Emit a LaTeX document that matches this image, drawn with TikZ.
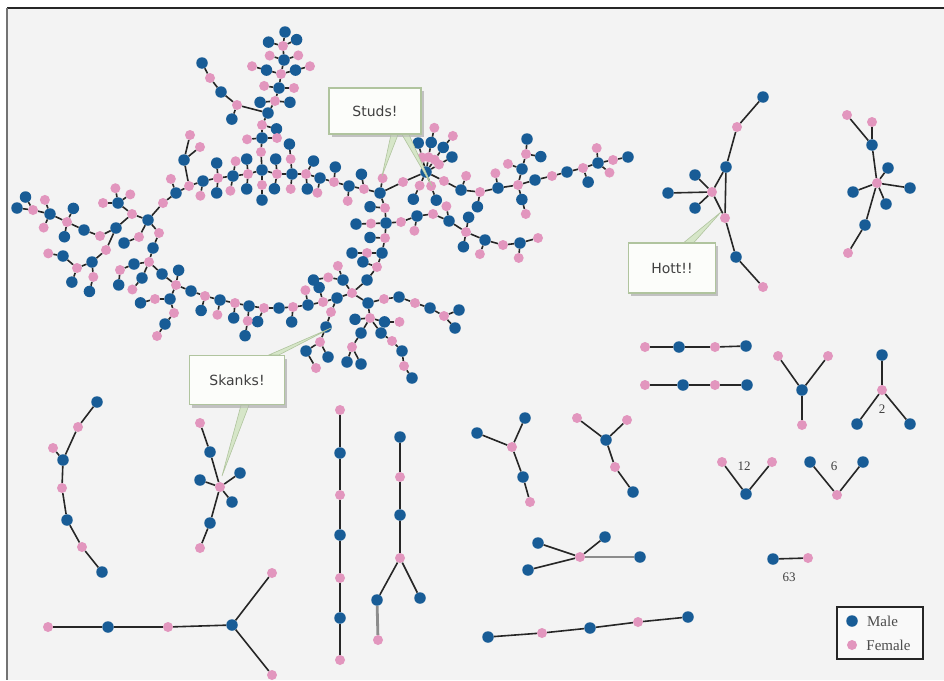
\documentclass[tikz,border=0pt]{standalone}
\usepackage{fontspec}
\setmainfont{Liberation Serif}
\newfontfamily\calloutfont{DejaVu Sans}
\usetikzlibrary{positioning,shadows}

\definecolor{maleblue}{RGB}{24,92,150}
\definecolor{femalepink}{RGB}{226,150,190}
\definecolor{paper}{RGB}{243,243,243}
\definecolor{noteedge}{RGB}{176,196,158}
\definecolor{notefill}{RGB}{252,253,250}
\definecolor{pointerfill}{RGB}{214,230,200}

\tikzset{
  male/.style={circle,fill=maleblue,inner sep=0pt,minimum size=11.5pt},
  female/.style={circle,fill=femalepink,inner sep=0pt,minimum size=10pt},
  tie/.style={draw=black!85,line width=1.6pt},
  thicktie/.style={draw=black!45,line width=2.8pt},
  notebox/.style={rectangle,draw=noteedge,fill=notefill,line width=1.2pt,
    font=\calloutfont\fontsize{14}{16}\selectfont,text=black!75,
    drop shadow={shadow xshift=2.5pt,shadow yshift=-3pt,fill=black!30}},
  pointer/.style={fill=pointerfill,draw=noteedge,line width=0.6pt},
  countlabel/.style={font=\fontsize{13}{15}\selectfont,text=black!75},
  legendtext/.style={font=\fontsize{15}{17}\selectfont,text=black!70,inner sep=0pt}
}

% leaves hanging off a node, one per angle
\newcommand\twig[3]{%
  \foreach \ang in {#3}{%
    \path (#1) ++(\ang:15) node[#2] (#1-\ang) {};
    \draw[tie] (#1) -- (#1-\ang);
  }}
% two-step spokes
\newcommand\arm[4]{%
  \foreach \ang in {#4}{%
    \path (#1) ++(\ang:15) node[#2] (#1-\ang) {} ++(\ang:15) node[#3] (#1-\ang-2) {};
    \draw[tie] (#1) -- (#1-\ang) -- (#1-\ang-2);
  }}

\begin{document}
\begin{tikzpicture}[x=1pt,y=-1pt]
\useasboundingbox (0,0) rectangle (944,680);
\fill[white] (0,0) rectangle (944,680);
\fill[paper] (7,8) rectangle (944,680);
\draw[black!85,line width=2.5pt] (944,8) -- (7,8);
\draw[black!55,line width=2.5pt] (7,8) -- (7,680);

% the big component
\foreach \n/\x/\y/\s in {
  t10/285/32/male, t9/283/46/female, t8/284/60/male, t7/281/74/female, t6/279/88/male,
  t5/275/101/female, t4/268/113/male, t3/262/125/female, t2/262/138/male, t1/261/152/female,
  l1/202/63/male, l2/210/78/female, l3/221/92/male, l4/237/105/female,
  a1/163/203/female, a2/176/193/male, a3/189/186/female, a4/203/181/male, a5/218/178/female,
  a6/233/176/male, a7/248/174/female, h0/262/170/male, a8/277/174/female, a9/292/174/male,
  a10/306/174/female, a11/320/178/male, a12/334/182/female, a13/349/186/male, a14/364/189/female,
  R/380/193/male, b1/184/160/male, b2/190/135/female, b3/200/147/female,
  c1/385/208/female, c2/386/223/male, c3/385/238/female, c4/382/253/male, c5/377/267/female,
  c6/367/280/male, B/352/293/female,
  d1/337/298/male, d2/323/302/female, d3/308/305/male, d4/293/307/female, d5/279/308/male,
  d6/264/308/female, d7/249/306/male, d8/235/303/female, d9/220/300/male, d10/205/296/female,
  d11/191/291/male, LB/176/285/female,
  x4/162/274/male, x3/149/262/female, x2/153/248/male, x1/159/233/female, M2/148/220/male,
  y1/132/214/female, y2/118/203/male, y6/116/228/male, y7/100/236/female, y8/106/250/female,
  y9/139/237/female, y10/124/243/male,
  w5/84/230/male, w4/67/222/female, w3/50/214/male, w2/33/210/female, w1/17/208/male,
  w7/92/262/male, w8/77/268/female, w9/63/256/male,
  w10/134/264/male, w11/120/270/female, w12/142/278/male,
  z1/170/299/male, z2/174/313/female, z3/165/324/male, z4/157/336/female,
  j1/403/182/female, S/426/172/male,
  e1/444/181/female, e2/461/190/male, e3/480/192/female, e4/498/188/male, C2/518/185/female,
  u1/522/169/male, u2/526/154/female, u3/527/139/male,
  v1/535/180/male, v2/552/176/female, v3/567/172/male, v4/583/168/female, v5/598/163/male,
  v6/613/160/female, v7/628/157/male,
  k1/401/222/female, k2/417/216/male, k3/433/214/female, k4/449/221/male, H2/466/232/female,
  n1/485/240/male, n2/503/245/female, n3/520/243/male, n4/538/238/female,
  m1/343/280/male, p1/368/303/male, p2/384/299/female, p3/399/297/male, p4/415/303/female,
  p5/430/308/male, p6/444/316/female, p7/459/310/male, p8/455/328/male,
  B2/370/318/female, r1/361/333/male, r2/352/347/female, r3/347/362/male, r4/361/364/male,
  r5/381/333/male, r6/392/341/female, r7/402/351/male, r8/404/366/female, r9/412/378/male,
  o1/331/312/female, o2/326/327/male, o3/320/342/female, o4/306/351/male, o5/328/357/male,
  o6/316/368/female}
  {\node[\s] (\n) at (\x,\y) {};}

\draw[tie] (t10)--(t9)--(t8)--(t7)--(t6)--(t5)--(t4)--(t3)--(t2)--(t1)--(h0);
\draw[tie] (l1)--(l2)--(l3)--(l4)--(t4);
\draw[tie] (M2)--(a1)--(a2)--(a3)--(a4)--(a5)--(a6)--(a7)--(h0)--(a8)--(a9)--(a10)--(a11)
  --(a12)--(a13)--(a14)--(R)--(c1)--(c2)--(c3)--(c4)--(c5)--(c6)--(B)--(d1)--(d2)--(d3)
  --(d4)--(d5)--(d6)--(d7)--(d8)--(d9)--(d10)--(d11)--(LB)--(x4)--(x3)--(x2)--(x1)--(M2);
\draw[tie] (a3)--(b1)--(b2);
\draw[tie] (b1)--(b3);
\draw[tie] (M2)--(y1)--(y2);
\draw[tie] (y1)--(y6)--(y7)--(w5)--(w4)--(w3)--(w2)--(w1);
\draw[tie] (y6)--(y8)--(w7)--(w8)--(w9);
\draw[tie] (M2)--(y9)--(y10);
\draw[tie] (x3)--(w10)--(w11);
\draw[tie] (x3)--(w12);
\draw[tie] (LB)--(z1)--(z2)--(z3)--(z4);
\draw[tie] (R)--(j1)--(S)--(e1)--(e2)--(e3)--(e4)--(C2)--(v1)--(v2)--(v3)--(v4)--(v5)--(v6)--(v7);
\draw[tie] (C2)--(u1)--(u2)--(u3);
\draw[tie] (c2)--(k1)--(k2)--(k3)--(k4)--(H2)--(n1)--(n2)--(n3)--(n4);
\draw[tie] (B)--(m1);
\draw[tie] (B)--(p1)--(p2)--(p3)--(p4)--(p5)--(p6)--(p7);
\draw[tie] (p6)--(p8);
\draw[tie] (p1)--(B2)--(r1)--(r2)--(r3);
\draw[tie] (r2)--(r4);
\draw[tie] (B2)--(r5)--(r6)--(r7)--(r8)--(r9);
\draw[tie] (d1)--(o1)--(o2)--(o3)--(o4)--(o6);
\draw[tie] (o3)--(o5);

\twig{t9}{male}{195,-25}
\twig{t8}{female}{197,-18}
\arm{t7}{male}{female}{195,-15}
\twig{t6}{female}{188,0}
\twig{t5}{male}{175,5}
\twig{t3}{male}{15}
\twig{t2}{female}{0,175}
\twig{l4}{male}{110}
\twig{a2}{female}{-110}
\twig{a4}{female}{100}
\twig{a5}{male}{-95,95}
\twig{a6}{female}{-80,100}
\twig{a7}{male}{-95,95}
\arm{h0}{female}{male}{90}
\twig{a8}{male}{-95,100}
\arm{a9}{female}{male}{-95}
\twig{a9}{female}{95}
\twig{a10}{male}{-60,85}
\twig{a11}{female}{100}
\twig{a12}{male}{-85}
\twig{a13}{female}{95}
\twig{a14}{male}{-100}
\twig{R}{female}{-80}
\twig{c1}{male}{185}
\arm{c2}{female}{male}{178}
\twig{c3}{male}{182}
\arm{c4}{female}{male}{180}
\twig{c5}{male}{200}
\arm{S}{female}{male}{-105,-80,-55,-30,70,115}
\twig{S--80-2}{female}{-78}
\twig{S--55-2}{female}{-50}
\twig{e2}{female}{-70}
\twig{e3}{male}{100}
\twig{e4}{female}{-100}
\twig{u1}{female}{-160}
\twig{u2}{male}{10}
\arm{C2}{male}{female}{75}
\twig{v4}{male}{70}
\twig{v5}{female}{-95,40}
\twig{k2}{female}{100}
\twig{k4}{female}{-100}
\twig{H2}{male}{-80,100}
\twig{n1}{female}{110}
\twig{n3}{female}{95}
\twig{m1}{female}{-110,190}
\twig{m1-190}{male}{170}
\twig{B2}{male}{175,15}
\twig{B2-15}{female}{0}
\twig{d2}{male}{-105}
\twig{d3}{female}{-100}
\twig{d4}{male}{95}
\twig{d6}{male}{115}
\twig{d7}{female}{95}
\twig{d7-95}{male}{100}
\twig{d8}{male}{95}
\twig{d9}{female}{100}
\twig{d10}{male}{105}
\twig{LB}{male}{-80}
\twig{z1}{female}{180}
\twig{z1-180}{male}{165}
\twig{y2}{female}{-100,-35,180}
\twig{w3}{female}{-110,115}
\twig{w2}{male}{-120}
\twig{w4}{male}{-65,100}
\twig{w7}{female}{85}
\twig{w7-85}{male}{105}
\twig{w8}{male}{110}
\twig{w9}{female}{190}
\twig{w11}{male}{95}
\twig{w12}{female}{130}

% small components, right of the big one
\foreach \n/\x/\y/\s in {
  ha1/763/97/male, ha2/737/127/female, ha3/726/167/male, ha4/712/192/female, ha5/725/218/female,
  ha6/736/257/male, ha7/763/287/female, ha8/695/175/male, ha9/668/193/male, ha10/695/208/male,
  hb1/847/115/female, hb2/872/122/female, hb3/872/145/male, hb4/877/183/female, hb5/888/168/male,
  hb6/910/188/male, hb7/886/204/male, hb8/853/192/male, hb9/865/225/male, hb10/848/253/female,
  hc1/645/347/female, hc2/679/347/male, hc3/715/347/female, hc4/746/346/male,
  hd1/645/385/female, hd2/683/385/male, hd3/715/385/female, hd4/747/385/male,
  he1/778/356/female, he2/828/356/female, he3/802/390/male, he4/802/425/female,
  hf1/882/355/male, hf2/882/390/female, hf3/857/424/male, hf4/910/424/male,
  hg1/722/462/female, hg2/772/462/female, hg3/746/494/male,
  hh1/810/462/male, hh2/863/462/male, hh3/837/495/female,
  hi1/773/559/male, hi2/808/558/female,
  hj1/477/433/male, hj2/512/447/female, hj3/525/418/male, hj4/523/477/male, hj5/530/502/female,
  hk1/577/418/female, hk2/627/420/female, hk3/606/440/male, hk4/615/467/female, hk5/633/492/male,
  hl1/538/543/male, hl2/605/537/male, hl3/580/557/female, hl4/640/557/male, hl5/528/570/male,
  hm1/488/637/male, hm2/542/633/female, hm3/590/628/male, hm4/638/622/female, hm5/688/617/male}
  {\node[\s] (\n) at (\x,\y) {};}

% small components, lower left
\foreach \n/\x/\y/\s in {
  hn1/97/402/male, hn2/78/427/female, hn3/53/448/female, hn4/63/460/male, hn5/62/488/female,
  hn6/67/520/male, hn7/82/547/female, hn8/102/572/male,
  ho1/200/423/female, ho2/210/452/male, ho3/220/487/female, ho4/200/480/male, ho5/240/473/male,
  ho6/232/502/male, ho7/210/523/male, ho8/200/548/female,
  hp1/48/627/female, hp2/108/627/male, hp3/168/627/female, hp4/232/625/male, hp5/272/573/female,
  hp6/272/675/female,
  hq1/340/410/female, hq2/340/453/male, hq3/340/495/female, hq4/340/535/male, hq5/340/578/female,
  hq6/340/618/male, hq7/340/660/female,
  hr1/400/437/male, hr2/400/477/female, hr3/400/515/male, hr4/400/558/female, hr5/377/600/male,
  hr6/420/598/male, hr7/378/640/female}
  {\node[\s] (\n) at (\x,\y) {};}

\draw[tie] (ha1)--(ha2)--(ha3)--(ha5)--(ha6)--(ha7);
\draw[tie] (ha3)--(ha4)--(ha5);
\foreach \k in {8,9,10} \draw[tie] (ha4)--(ha\k);
\draw[tie] (hb1)--(hb3)--(hb4)--(hb9)--(hb10);
\draw[tie] (hb2)--(hb3);
\foreach \k in {5,6,7,8} \draw[tie] (hb4)--(hb\k);
\draw[tie] (hc1)--(hc2)--(hc3)--(hc4);
\draw[tie] (hd1)--(hd2)--(hd3)--(hd4);
\draw[tie] (he1)--(he3)--(he2);
\draw[tie] (he3)--(he4);
\draw[tie] (hf1)--(hf2)--(hf3);
\draw[tie] (hf2)--(hf4);
\draw[tie] (hg1)--(hg3)--(hg2);
\draw[tie] (hh1)--(hh3)--(hh2);
\draw[tie] (hi1)--(hi2);
\draw[tie] (hj1)--(hj2)--(hj3);
\draw[tie] (hj2)--(hj4)--(hj5);
\draw[tie] (hk1)--(hk3)--(hk2);
\draw[tie] (hk3)--(hk4)--(hk5);
\foreach \k in {1,2,5} \draw[tie] (hl3)--(hl\k);
\draw[thicktie] (hl3)--(hl4);
\draw[tie] (hm1)--(hm2)--(hm3)--(hm4)--(hm5);
\draw[tie] (hn1)--(hn2)--(hn4)--(hn5)--(hn6)--(hn7)--(hn8);
\draw[tie] (hn3)--(hn4);
\draw[tie] (ho1)--(ho2)--(ho3)--(ho7)--(ho8);
\foreach \k in {4,5,6} \draw[tie] (ho3)--(ho\k);
\draw[tie] (hp1)--(hp2)--(hp3)--(hp4)--(hp5);
\draw[tie] (hp4)--(hp6);
\draw[tie] (hq1)--(hq2)--(hq3)--(hq4)--(hq5)--(hq6)--(hq7);
\draw[tie] (hr1)--(hr2)--(hr3)--(hr4)--(hr5);
\draw[tie] (hr4)--(hr6);
\draw[thicktie] (hr5)--(hr7);

\node[countlabel] (size2) at (882,409) {2};
\node[countlabel] (size12) at (744,466) {12};
\node[countlabel] (size6) at (834,466) {6};
\node[countlabel] (size63) at (789,577) {63};

% call-outs
\coordinate (studtipA) at (382,176);
\coordinate (studtipB) at (432,186);
\coordinate (skanktipA) at (331,328);
\coordinate (skanktipB) at (222,476);
\coordinate (hotttip) at (721,212);
\node[notebox,minimum width=92pt,minimum height=46pt] (studs) at (375,111) {};
\node[notebox,minimum width=95pt,minimum height=49pt] (skanks) at (237,380) {};
\node[notebox,minimum width=87pt,minimum height=50pt] (hott) at (672,268) {};
\filldraw[pointer] ([xshift=16pt]studs.south) -- ([xshift=23pt]studs.south) -- (studtipA) -- cycle;
\filldraw[pointer] ([xshift=27pt]studs.south) -- ([xshift=34pt]studs.south) -- (studtipB) -- cycle;
\filldraw[pointer] ([xshift=32pt]skanks.north) -- ([xshift=42pt]skanks.north) -- (skanktipA) -- cycle;
\filldraw[pointer] ([xshift=4pt]skanks.south) -- ([xshift=12pt]skanks.south) -- (skanktipB) -- cycle;
\filldraw[pointer] ([xshift=12pt]hott.north) -- ([xshift=22pt]hott.north) -- (hotttip) -- cycle;
\node[notebox,minimum width=92pt,minimum height=46pt] at (studs) {Studs!};
\node[notebox,minimum width=95pt,minimum height=49pt] at (skanks) {Skanks!};
\node[notebox,minimum width=87pt,minimum height=50pt] at (hott) {Hott!!};

% key
\node[draw=black!85,line width=1.5pt,fill=white!50!paper,minimum width=86pt,minimum height=52pt] (legend) at (880,633) {};
\node[male] (keymale) at (852,621) {};
\node[female] (keyfemale) at (852,645) {};
\node[legendtext,right=9pt of keymale] (maletext) {Male};
\node[legendtext,right=9pt of keyfemale] (femaletext) {Female};
\end{tikzpicture}
\end{document}
